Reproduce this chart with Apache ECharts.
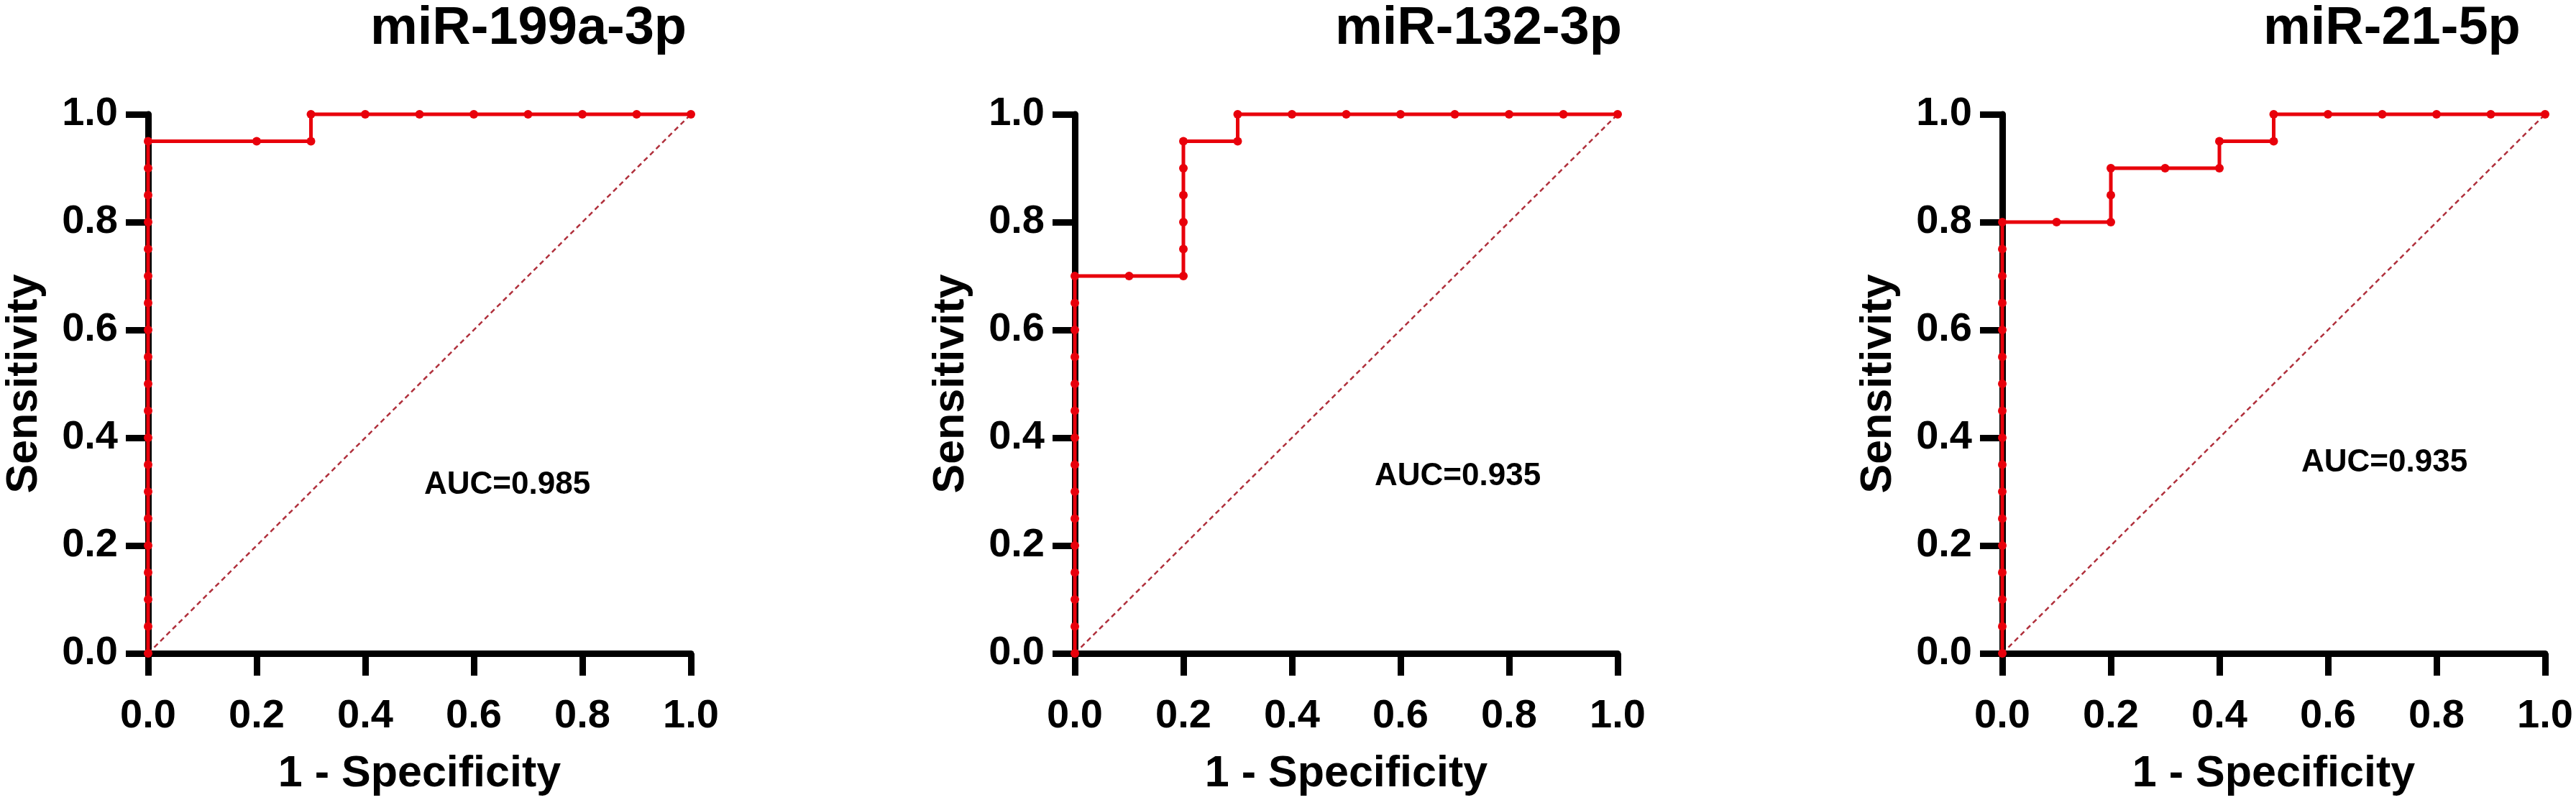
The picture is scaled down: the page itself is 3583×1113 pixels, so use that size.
<!DOCTYPE html>
<html>
<head>
<meta charset="utf-8">
<script src="https://cdn.jsdelivr.net/npm/echarts@6/dist/echarts.min.js"></script>
<style>
html,body{margin:0;padding:0;background:#fff;}
#c{width:3583px;height:1113px;}
</style>
</head>
<body>
<div id="c"></div>
<script>
// ---- Data ----
const titles = ['miR-199a-3p', 'miR-132-3p', 'miR-21-5p'];
const aucLabels = ['AUC=0.985', 'AUC=0.935', 'AUC=0.935'];
const tickValues = [0.0, 0.2, 0.4, 0.6, 0.8, 1.0];

// miR-199a-3p
const fpr1 = [0,0,0,0,0,0,0,0,0,0,0,0,0,0,0,0,0,0,0,0, 0.2,0.3,0.3,0.4,0.5,0.6,0.7,0.8,0.9,1.0];
const tpr1 = [0,0.05,0.1,0.15,0.2,0.25,0.3,0.35,0.4,0.45,0.5,0.55,0.6,0.65,0.7,0.75,0.8,0.85,0.9,0.95, 0.95,0.95,1,1,1,1,1,1,1,1];
// miR-132-3p
const fpr2 = [0,0,0,0,0,0,0,0,0,0,0,0,0,0,0, 0.1,0.2,0.2,0.2,0.2,0.2,0.2, 0.3,0.3,0.4,0.5,0.6,0.7,0.8,0.9,1.0];
const tpr2 = [0,0.05,0.1,0.15,0.2,0.25,0.3,0.35,0.4,0.45,0.5,0.55,0.6,0.65,0.7, 0.7,0.7,0.75,0.8,0.85,0.9,0.95, 0.95,1,1,1,1,1,1,1,1];
// miR-21-5p
const fpr3 = [0,0,0,0,0,0,0,0,0,0,0,0,0,0,0,0,0, 0.1,0.2,0.2,0.2,0.3,0.4,0.4,0.5,0.5,0.6,0.7,0.8,0.9,1.0];
const tpr3 = [0,0.05,0.1,0.15,0.2,0.25,0.3,0.35,0.4,0.45,0.5,0.55,0.6,0.65,0.7,0.75,0.8, 0.8,0.8,0.85,0.9,0.9,0.9,0.95,0.95,1,1,1,1,1,1];
const diagonal = [[0,0],[1,1]];

// ---- Layout ----
const FONT = '"Liberation Sans", Arial, Helvetica, sans-serif';
const gridLefts = [206, 1495, 2785];
const gridTop = 159, gridW = 755, gridH = 753;
const titleX = [515, 1857, 3148], titleTop = 4;
const aucX = [590, 1912, 3201], aucY = [678, 666, 647];

const fprs = [fpr1, fpr2, fpr3];
const tprs = [tpr1, tpr2, tpr3];

const grids = [], xAxes = [], yAxes = [], series = [], graphics = [];
for (let i = 0; i < 3; i++) {
  grids.push({left: gridLefts[i], top: gridTop, width: gridW, height: gridH, containLabel: false});
  const axisCommon = {
    type: 'value', min: 0, max: 1, interval: 0.2,
    axisLine: {show: true, onZero: false, lineStyle: {color: '#000', width: 9}},
    axisTick: {show: true, inside: false, length: 31, lineStyle: {color: '#000', width: 9}},
    splitLine: {show: false},
    nameLocation: 'middle',
    nameTextStyle: {fontFamily: FONT, fontWeight: 'bold', fontSize: 61, color: '#000'},
    axisLabel: {fontFamily: FONT, fontWeight: 'bold', fontSize: 56, color: '#000',
      formatter: v => Number(v).toFixed(1)}
  };
  xAxes.push(Object.assign({}, axisCommon, {
    gridIndex: i, position: 'bottom', name: '1 - Specificity', nameGap: 138,
    axisLabel: Object.assign({}, axisCommon.axisLabel, {margin: 60})
  }));
  yAxes.push(Object.assign({}, axisCommon, {
    gridIndex: i, position: 'left', name: 'Sensitivity', nameGap: 141,
    axisLabel: Object.assign({}, axisCommon.axisLabel, {margin: 42})
  }));
  series.push({
    type: 'line', xAxisIndex: i, yAxisIndex: i,
    data: diagonal, symbol: 'none', clip: false, z: 2,
    lineStyle: {color: '#b0303c', width: 2.5, type: [7, 5]}
  });
  series.push({
    type: 'line', xAxisIndex: i, yAxisIndex: i,
    data: fprs[i].map((x, k) => [x, tprs[i][k]]),
    symbol: 'circle', symbolSize: 12, showAllSymbol: true, clip: false, z: 5,
    lineStyle: {color: '#e8000b', width: 5},
    itemStyle: {color: '#e8000b'}
  });
  graphics.push({
    type: 'text', left: titleX[i], top: titleTop,
    style: {text: titles[i], font: 'bold 74px ' + FONT, fill: '#000'}
  });
  graphics.push({
    type: 'text', left: aucX[i], top: aucY[i] - 25,
    style: {text: aucLabels[i], font: 'bold 44px ' + FONT, fill: '#000'}
  });
}

const chart = echarts.init(document.getElementById('c'), null, {renderer: 'canvas'});
chart.setOption({
  animation: false,
  backgroundColor: '#fff',
  grid: grids, xAxis: xAxes, yAxis: yAxes, series: series,
  graphic: graphics
});
</script>
</body>
</html>
